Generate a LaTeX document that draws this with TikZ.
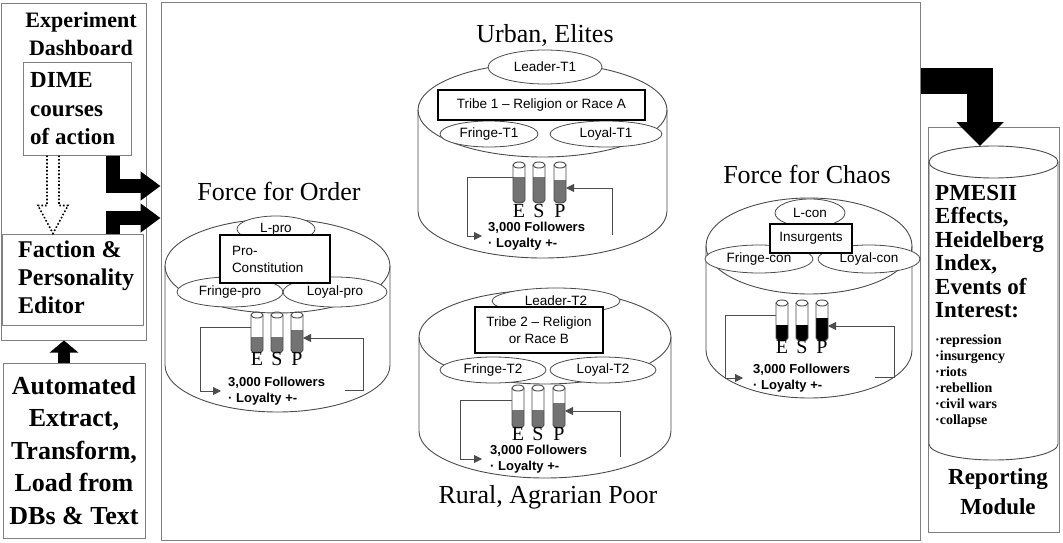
\documentclass[tikz,border=0pt]{standalone}
\usepackage{fontspec}
\setmainfont{Liberation Serif}
\setsansfont{Liberation Sans}
\usetikzlibrary{arrows.meta,shapes.geometric}

\definecolor{edge}{gray}{0.5}
\definecolor{canedge}{gray}{0.3}
\definecolor{level}{gray}{0.45}

\newcommand*\tubewidth{12}
\tikzset{
    panel/.style={draw=edge, line width=1pt, rectangle, inner sep=0pt},
    menu/.style={align=left, inner sep=0pt, anchor=west, font=\bfseries\fontsize{23}{28.5}\selectfont},
    heading/.style={font=\bfseries\fontsize{22}{28}\selectfont, align=center, inner sep=0pt},
    caption/.style={font=\fontsize{26}{30}\selectfont, inner sep=0pt, anchor=base},
    canline/.style={draw=canedge, line width=0.9pt},
    sub/.style={ellipse, draw=canedge, fill=white, line width=0.8pt, inner sep=0pt,
        font=\sffamily\fontsize{13.5}{16}\selectfont},
    creed/.style={draw=black, line width=2.6pt, fill=white, inner sep=0pt,
        font=\sffamily\fontsize{13.5}{17}\selectfont},
    crowd/.style={font=\sffamily\bfseries\fontsize{13}{16}\selectfont, align=left,
        inner sep=0pt, anchor=west},
    esp/.style={font=\fontsize{20}{20}\selectfont, inner sep=0pt, anchor=base},
    feed/.style={draw=canedge, line width=0.9pt, -{Triangle[length=8pt,width=8pt]}},
    bigarrow/.style={line width=14pt, line join=miter, -{Triangle[length=20pt,width=28pt]}},
    liftarrow/.style={line width=12pt, -{Triangle[length=12pt,width=28pt]}},
    hollow/.style={dotted, line width=1.6pt}
}

% can: centre x, half width, top y, bottom y, ellipse height
\newcommand\drawcan[5]{%
    \draw[canline] ({#1-#2},#3) -- ({#1-#2},#4)
        arc[start angle=180, end angle=0, x radius=#2, y radius=#5] -- ({#1+#2},#3);
    \draw[canline] (#1,#3) ellipse[x radius=#2, y radius=#5];
}
% tube: name, left x, top y, bottom y, level y, colour
\newcommand\esptube[6]{%
    \fill[#6] (#2,#5) -- (#2,#4)
        arc[start angle=180, end angle=0, x radius=6, y radius=3] -- ({#2+\tubewidth},#5) -- cycle;
    \draw[canline] (#2,#3) -- (#2,#4)
        arc[start angle=180, end angle=0, x radius=6, y radius=3] -- ({#2+\tubewidth},#3);
    \draw[canline] ({#2+6},#3) ellipse[x radius=6, y radius=3];
    \coordinate (#1w) at (#2,{#3+12});
    \coordinate (#1e) at ({#2+\tubewidth},{#3+23});
}

\begin{document}
\begin{tikzpicture}[x=1pt,y=-1pt]
    \useasboundingbox (0,0) rectangle (1063,543);
    \fill[white] (0,0) rectangle (1063,543);

    % Left column: dashboard, editor and loader.
    \node[panel, minimum width=145pt, minimum height=336pt] (dash) at (73.5,172) {};
    \node[heading] (dashtitle) at (81,34) {Experiment\\Dashboard};
    \node[panel, minimum width=108pt, minimum height=92pt] (dime) at (77,109) {};
    \node[menu] (dimetext) at (30,109) {DIME\\courses\\of action};
    \node[panel, minimum width=141pt, minimum height=91pt] (editor) at (72.5,279.5) {};
    \node[menu, font=\bfseries\fontsize{24}{28}\selectfont] (editortext) at (18,277)
        {Faction \&\\Personality\\Editor};
    \node[panel, minimum width=142pt, minimum height=175pt, align=center,
        font=\bfseries\fontsize{26}{32.5}\selectfont] (loader) at (74,450.5)
        {Automated\\Extract,\\Transform,\\Load from\\DBs \& Text};

    \coordinate (dd) at (dime.south -| 53,0);
    \coordinate (fd) at (editor.north -| 53,0);
    \draw[hollow] ([xshift=-6pt]dd) -- ([xshift=-6pt,yshift=28pt]fd)
        -- ([xshift=-15pt,yshift=28pt]fd) -- (fd) -- ([xshift=15pt,yshift=28pt]fd)
        -- ([xshift=6pt,yshift=28pt]fd) -- ([xshift=6pt]dd);
    \draw[liftarrow] (loader.north -| 64,0) -- (dash.south -| 64,0);

    % The simulation panel.
    \node[panel, minimum width=759pt, minimum height=537pt] (main) at (540.5,271.5) {};
    \draw[bigarrow] (dime.south -| 113,0) |- (main.west |- 0,186);
    \draw[bigarrow] (editor.north -| 113,0) |- (main.west |- 0,218);

    % Force for Order.
    \node[caption] (ordertitle) at (279,200) {Force for Order};
    \drawcan{277.5}{112.5}{266}{365}{47}
    \node[sub, minimum width=78pt, minimum height=26pt] (lpro) at (276,229) {L-pro};
    \node[sub, minimum width=106pt, minimum height=30pt] (fpro) at (230,292) {Fringe-pro};
    \node[sub, minimum width=104pt, minimum height=30pt] (ypro) at (335,292) {Loyal-pro};
    \node[creed, minimum width=110pt, minimum height=48pt, text width=86pt, inner xsep=12pt,
        align=left] (cpro) at (275,259) {Pro-\\Constitution};
    \foreach \n/\x/\lev in {E/251/337,S/271/337,P/291/330} {
        \esptube{o\n}{\x}{315}{350}{\lev}{level}
        \node[esp] (ol\n) at ({\x+6},365) {\n};
    }
    \node[crowd] (ofol) at (228,391) {3,000 Followers\\· Loyalty +-};
    \coordinate (ofr) at (345,390);
    \draw[feed] (oEw) -| ([xshift=-28pt]ofol.west) -- ([xshift=-7pt]ofol.west);
    \draw[feed] (ofr) -- ++(18,0) |- (oPe);

    % Tribe 1.
    \node[caption] (t1title) at (545,43) {Urban, Elites};
    \drawcan{542.5}{124.5}{110}{211}{47}
    \node[sub, minimum width=114pt, minimum height=34pt] (lt1) at (545,67) {Leader-T1};
    \node[sub, minimum width=98pt, minimum height=26pt] (ft1) at (489,134) {Fringe-T1};
    \node[sub, minimum width=112pt, minimum height=26pt] (yt1) at (606,134) {Loyal-T1};
    \node[creed, minimum width=207pt, minimum height=30pt] (ct1) at (541.5,105)
        {Tribe 1 -- Religion or Race A};
    \foreach \n/\x/\lev in {E/513/177,S/533/177,P/554/180} {
        \esptube{a\n}{\x}{165}{200}{\lev}{level}
        \node[esp] (al\n) at ({\x+6},217) {\n};
    }
    \node[crowd] (afol) at (488,236) {3,000 Followers\\· Loyalty +-};
    \coordinate (afr) at (612,235);
    \draw[feed] (aEw) -| ([xshift=-21pt]afol.west) -- ([xshift=-6pt]afol.west);
    \draw[feed] (afr) |- (aPe);

    % Tribe 2.
    \drawcan{545}{126}{337}{431}{47}
    \node[sub, minimum width=128pt, minimum height=26pt] (lt2) at (556,301) {Leader-T2};
    \node[sub, minimum width=106pt, minimum height=26pt] (ft2) at (493,370) {Fringe-T2};
    \node[sub, minimum width=106pt, minimum height=26pt] (yt2) at (603,370) {Loyal-T2};
    \node[creed, minimum width=128pt, minimum height=46pt, align=center]
        (ct2) at (539,330) {Tribe 2 -- Religion\\or Race B};
    \foreach \n/\x/\lev in {E/512/410,S/532/410,P/553/403} {
        \esptube{b\n}{\x}{388}{425}{\lev}{level}
        \node[esp] (bl\n) at ({\x+6},440) {\n};
    }
    \node[crowd] (bfol) at (490,459) {3,000 Followers\\· Loyalty +-};
    \coordinate (bfr) at (620,457);
    \draw[feed] (bEw) -| ([xshift=-30pt]bfol.west) -- ([xshift=-8pt]bfol.west);
    \draw[feed] (bfr) |- (bPe);
    \node[caption] (t2title) at (548,503) {Rural, Agrarian Poor};

    % Force for Chaos.
    \node[caption] (chaostitle) at (807,183) {Force for Chaos};
    \drawcan{809}{103}{246}{350}{48}
    \node[sub, minimum width=70pt, minimum height=28pt] (lcon) at (810,213) {L-con};
    \node[sub, minimum width=108pt, minimum height=28pt] (fcon) at (759,259) {Fringe-con};
    \node[sub, minimum width=102pt, minimum height=28pt] (ycon) at (869,259) {Loyal-con};
    \node[creed, minimum width=82pt, minimum height=29pt] (ccon) at (811,238.5) {Insurgents};
    \foreach \n/\x/\lev in {E/776/325,S/796/325,P/816/318} {
        \esptube{c\n}{\x}{303}{338}{\lev}{black}
        \node[esp] (cl\n) at ({\x+6},353) {\n};
    }
    \node[crowd] (cfol) at (753,378) {3,000 Followers\\· Loyalty +-};
    \coordinate (cfr) at (875,377);
    \draw[feed] (cEw) -| ([xshift=-28pt]cfol.west) -- ([xshift=-10pt]cfol.west);
    \draw[feed] (cfr) -- ++(19,0) |- (cPe);

    % Reporting module.
    \node[panel, minimum width=131pt, minimum height=405pt] (report) at (993.5,329.5) {};
    \drawcan{993.5}{64.5}{162}{444}{16}
    \coordinate (rtop) at (980,146);
    \draw[bigarrow, line width=26pt, -{Triangle[length=24pt,width=46pt]}]
        (main.east |- 0,81) -| (rtop);
    \node[anchor=west, inner sep=0pt, align=left, font=\bfseries\fontsize{23}{23.4}\selectfont]
        (effects) at (935,251.5) {PMESII\\Effects,\\Heidelberg\\Index,\\Events of\\Interest:};
    \node[anchor=west, inner sep=0pt, align=left, font=\bfseries\fontsize{14}{16}\selectfont]
        (events) at (935,381) {·repression\\·insurgency\\·riots\\·rebellion\\·civil wars\\·collapse};
    \node[heading, font=\bfseries\fontsize{23}{30}\selectfont] (reportname) at (998,492)
        {Reporting\\Module};
\end{tikzpicture}
\end{document}
